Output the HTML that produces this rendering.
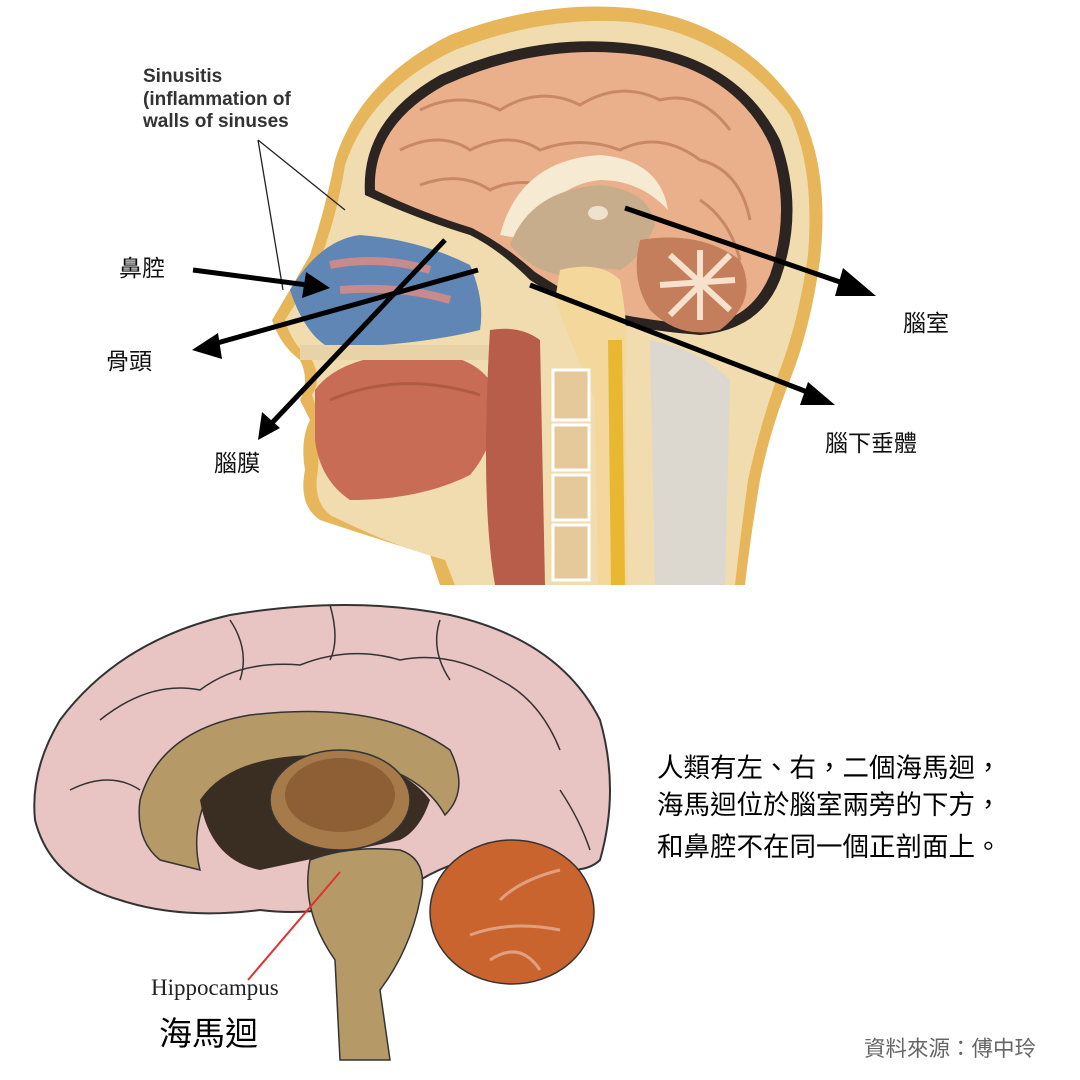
<!DOCTYPE html>
<html><head><meta charset="utf-8"><style>
html,body{margin:0;padding:0;background:#fff;}
svg{display:block}
</style></head><body>
<svg width="1080" height="1080" viewBox="0 0 1080 1080" xmlns="http://www.w3.org/2000/svg">
<rect width="1080" height="1080" fill="#fff"/>
<!-- HEAD -->
<path d="M440,585 L430,555 Q380,540 320,520 Q298,505 305,470 Q300,440 310,420 L300,400 Q310,380 300,360 Q280,345 272,320 Q290,290 310,255 Q325,210 335,160 Q360,80 450,35 Q540,0 630,8 Q740,20 800,110 Q830,170 820,260 Q810,330 790,380 Q770,430 760,480 Q750,540 745,585 Z" fill="#e7b55a"/>
<path d="M455,585 L445,560 Q390,545 330,515 Q312,500 318,470 L320,420 L312,395 Q322,380 312,360 Q292,345 285,320 Q305,290 322,255 Q338,210 345,165 Q370,90 455,50 Q545,15 630,22 Q730,35 790,115 Q815,170 808,255 Q798,325 778,375 Q760,425 748,480 Q740,540 735,585 Z" fill="#f0dcae"/>
<path d="M365,195 Q360,120 440,75 Q540,30 640,45 Q740,60 780,140 Q805,210 780,280 Q760,330 700,335 Q640,330 600,320 Q560,300 530,280 Q500,250 470,235 Q420,220 365,195 Z" fill="#2b2420"/>
<path d="M375,190 Q372,125 445,85 Q540,42 638,55 Q735,70 770,145 Q792,210 770,275 Q750,322 700,325 Q640,320 602,310 Q565,292 535,272 Q505,245 472,228 Q420,212 375,190 Z" fill="#eab08c"/>
<g fill="none" stroke="#c98865" stroke-width="3">
<path d="M420,110 Q460,90 500,110 Q540,85 580,105 Q620,80 660,100 Q700,90 730,130"/>
<path d="M400,150 Q440,130 470,150 Q510,130 540,150 Q580,135 620,150 Q660,130 700,160 Q740,170 750,220"/>
<path d="M420,185 Q460,170 490,190 Q520,175 560,190"/>
<path d="M700,200 Q730,220 740,260"/>
</g>
<path d="M500,235 Q520,160 600,155 Q660,160 668,210 Q640,180 600,180 Q550,185 530,240 Z" fill="#f7ead2"/>
<path d="M510,245 Q530,190 600,185 Q650,190 655,225 Q640,260 620,270 Q590,265 560,275 Q530,270 510,245 Z" fill="#c8ad8c"/>
<ellipse cx="598" cy="213" rx="10" ry="7" fill="#efe2cc"/>
<path d="M640,240 Q700,230 740,260 Q760,300 720,330 Q680,340 650,310 Q630,280 640,240 Z" fill="#c47e5c"/>
<g stroke="#f6e2cc" stroke-width="6" fill="none">
<path d="M660,285 L735,280 M700,250 L700,320 M670,255 L730,310 M730,255 L670,315"/>
</g>
<path d="M560,270 Q600,260 620,280 Q630,330 625,380 L628,585 L598,585 L595,400 Q570,340 555,300 Z" fill="#f3d79b"/>
<path d="M615,340 L618,585" stroke="#e8b832" stroke-width="14"/>
<path d="M290,290 Q320,240 360,235 Q420,240 470,265 Q485,300 480,330 Q420,345 330,348 Q305,335 290,290 Z" fill="#5f86b5"/>
<path d="M330,265 Q380,255 430,270 M340,290 Q400,285 450,300" stroke="#c88a8a" stroke-width="8" fill="none"/>
<path d="M315,390 Q340,355 420,352 Q480,355 495,390 Q500,440 470,475 Q420,500 350,500 Q320,480 315,440 Z" fill="#c96c55"/>
<path d="M330,400 Q400,370 480,395" stroke="#b05a44" stroke-width="3" fill="none"/>
<path d="M300,345 L500,345 L500,360 L300,360 Z" fill="#e8d2a8"/>
<path d="M490,330 Q520,325 540,340 L545,585 L495,585 Q480,500 490,330 Z" fill="#b95d4b"/>
<g fill="#e5c99a" stroke="#fff" stroke-width="3">
<rect x="553" y="370" width="36" height="50"/>
<rect x="553" y="425" width="36" height="45"/>
<rect x="553" y="475" width="36" height="45"/>
<rect x="553" y="525" width="36" height="55"/>
</g>
<path d="M650,340 Q700,350 730,380 L725,585 L655,585 Z" fill="#dcd8d0"/>
<text x="143" y="82" font-family="Liberation Sans,sans-serif" font-size="19" font-weight="bold" fill="#333">Sinusitis</text>
<text x="143" y="105" font-family="Liberation Sans,sans-serif" font-size="19" font-weight="bold" fill="#333">(inflammation of</text>
<text x="143" y="127" font-family="Liberation Sans,sans-serif" font-size="19" font-weight="bold" fill="#333">walls of sinuses</text>
<path d="M258,140 L345,210 M258,140 L283,290" stroke="#222" stroke-width="1.3" fill="none"/>
<g stroke="#000" stroke-width="5" fill="none">
<line x1="193" y1="270" x2="315" y2="286"/>
<line x1="478" y1="270" x2="210" y2="345"/>
<line x1="445" y1="240" x2="270" y2="425"/>
<line x1="625" y1="208" x2="840" y2="282"/>
<line x1="530" y1="285" x2="815" y2="395"/>
</g>
<g fill="#000">
<polygon points="330,288 306,272 302,298"/>
<polygon points="192,350 218,333 222,359"/>
<polygon points="258,440 262,412 280,428"/>
<polygon points="876,296 843,268 835,296"/>
<polygon points="835,405 808,382 800,405"/>
</g>
<g font-family="Liberation Sans,'Noto Sans CJK TC',sans-serif" font-size="23" fill="#111">
<text x="119" y="276">鼻腔</text>
<text x="106" y="369">骨頭</text>
<text x="214" y="471">腦膜</text>
<text x="903" y="331">腦室</text>
<text x="825" y="451">腦下垂體</text>
</g>
<!-- BOTTOM BRAIN -->
<path d="M60,720 Q120,640 230,615 Q350,595 450,615 Q560,640 600,720 Q620,790 600,860 Q580,880 520,860 Q470,850 420,880 Q340,920 260,910 Q180,920 120,900 Q50,880 35,820 Q30,770 60,720 Z" fill="#e8c4c3" stroke="#333" stroke-width="2"/>
<g fill="none" stroke="#333" stroke-width="1.5">
<path d="M100,720 Q150,680 200,690 Q240,660 300,665 Q350,645 400,660 Q450,650 500,680 Q540,700 560,750"/>
<path d="M70,790 Q110,770 140,790 M560,790 Q580,820 590,850"/>
<path d="M230,620 Q250,650 240,680 M330,605 Q340,640 330,660 M440,620 Q430,650 450,680"/>
</g>
<path d="M140,800 Q160,730 250,715 Q380,700 450,750 Q470,790 445,815 Q420,770 350,760 Q260,750 210,790 Q190,830 200,870 L160,860 Q135,840 140,800 Z" fill="#b59a68" stroke="#333" stroke-width="1.5"/>
<path d="M200,800 Q230,755 320,755 Q400,760 430,800 Q420,830 400,840 L260,870 Q210,860 200,800 Z" fill="#3a2d22"/>
<ellipse cx="340" cy="800" rx="70" ry="50" fill="#a77a4a" stroke="#333" stroke-width="1.5"/>
<ellipse cx="340" cy="795" rx="55" ry="37" fill="#8e5f35"/>
<path d="M310,860 Q350,845 400,850 Q430,860 420,900 Q410,950 380,990 L390,1060 L340,1060 L335,960 Q300,910 310,860 Z" fill="#b59a68" stroke="#333" stroke-width="1.5"/>
<ellipse cx="512" cy="912" rx="82" ry="72" fill="#c9642e" stroke="#333" stroke-width="1.5"/>
<path d="M470,935 Q510,920 560,930 M500,900 Q520,880 560,870 M490,960 Q520,940 540,970" stroke="#e0a080" stroke-width="3" fill="none"/>
<line x1="340" y1="872" x2="248" y2="980" stroke="#d33" stroke-width="2"/>
<text x="151" y="995" font-family="Liberation Serif,serif" font-size="23" fill="#222">Hippocampus</text>
<text x="159" y="1045" font-family="Liberation Sans,'Noto Sans CJK TC',sans-serif" font-size="33" fill="#000">海馬迴</text>
<g font-family="Liberation Sans,'Noto Sans CJK TC',sans-serif" font-size="26.5" fill="#000">
<text x="657" y="777">人類有左、右，二個海馬迴，</text>
<text x="657" y="814">海馬迴位於腦室兩旁的下方，</text>
<text x="657" y="856">和鼻腔不在同一個正剖面上。</text>
</g>
<text x="864" y="1056" font-family="Liberation Sans,'Noto Sans CJK TC',sans-serif" font-size="21.5" fill="#666">資料來源：傅中玲</text>
</svg>
</body></html>
